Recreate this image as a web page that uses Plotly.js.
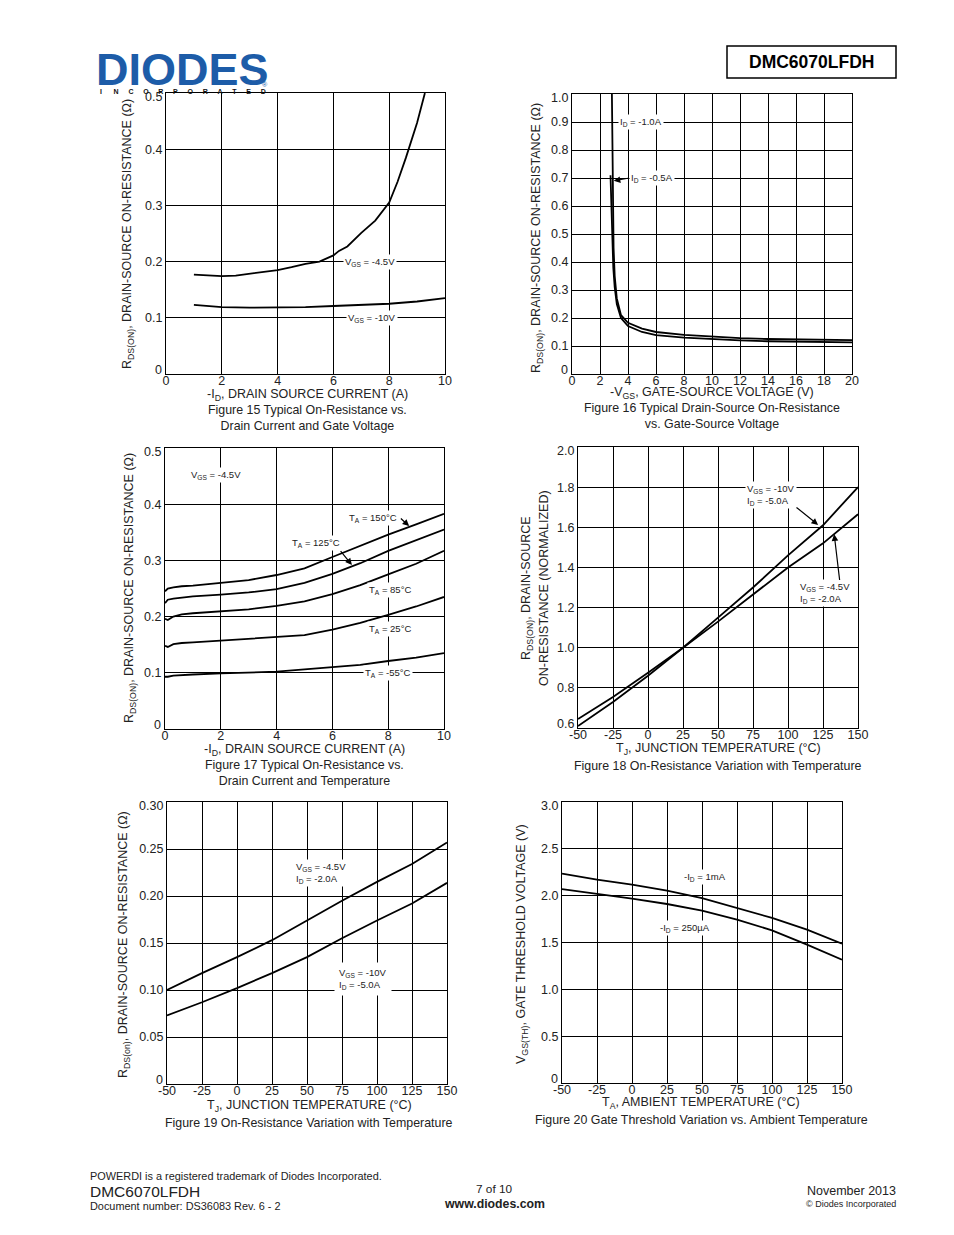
<!DOCTYPE html>
<html><head><meta charset="utf-8">
<script src="https://cdn.plot.ly/plotly-3.0.1.min.js"></script>
<style>html,body{margin:0;padding:0;background:#fff}#c{width:954px;height:1235px}</style>
</head><body><div id="c"></div>
<script>
// ---------- DATA ----------
// Figure 15
const f15_id_45 = [1, 1.5, 2, 2.5, 3, 3.5, 4, 4.5, 5, 5.5, 6, 6.2, 6.5, 7, 7.5, 8, 8.3, 8.6, 9, 9.28];
const f15_r_45  = [0.177, 0.175, 0.174, 0.175, 0.178, 0.181, 0.185, 0.190, 0.196, 0.200, 0.211, 0.219, 0.227, 0.251, 0.273, 0.305, 0.342, 0.385, 0.447, 0.5];
const f15_id_10 = [1, 2, 3, 4, 5, 6, 7, 8, 9, 10];
const f15_r_10  = [0.123, 0.119, 0.118, 0.118, 0.119, 0.121, 0.123, 0.125, 0.129, 0.135];
// Figure 16
const f16_v_1a  = [2.85, 2.88, 2.92, 2.97, 3.05, 3.2, 3.5, 4, 5, 6, 8, 10, 12, 14, 16, 18, 20];
const f16_r_1a  = [1.0, 0.8, 0.6, 0.45, 0.35, 0.27, 0.21, 0.183, 0.162, 0.150, 0.140, 0.133, 0.128, 0.125, 0.123, 0.122, 0.121];
const f16_v_05a = [2.75, 2.8, 2.88, 2.95, 3.05, 3.2, 3.5, 4, 5, 6, 8, 10, 12, 14, 16, 18, 20];
const f16_r_05a = [0.71, 0.6, 0.48, 0.38, 0.31, 0.25, 0.20, 0.171, 0.150, 0.139, 0.130, 0.124, 0.120, 0.117, 0.116, 0.115, 0.113];
// Figure 17
const f17_id    = [0, 0.1, 0.3, 0.6, 1, 2, 3, 4, 5, 6, 7, 8, 9, 10];
const f17_r_150 = [0.245, 0.250, 0.252, 0.254, 0.255, 0.260, 0.265, 0.274, 0.286, 0.306, 0.326, 0.346, 0.364, 0.383];
const f17_r_125 = [0.224, 0.230, 0.232, 0.234, 0.236, 0.239, 0.243, 0.249, 0.260, 0.276, 0.295, 0.317, 0.336, 0.355];
const f17_r_85  = [0.196, 0.194, 0.200, 0.204, 0.206, 0.209, 0.213, 0.219, 0.227, 0.240, 0.256, 0.275, 0.294, 0.317];
const f17_r_25  = [0.148, 0.146, 0.151, 0.153, 0.154, 0.157, 0.160, 0.163, 0.167, 0.177, 0.189, 0.203, 0.218, 0.235];
const f17_r_m55 = [0.093, 0.093, 0.095, 0.096, 0.097, 0.099, 0.101, 0.102, 0.106, 0.110, 0.114, 0.121, 0.127, 0.135];
// Figure 18
const f18_t     = [-50, -25, 0, 25, 50, 75, 100, 125, 150];
const f18_n_10  = [0.61, 0.73, 0.86, 1.0, 1.15, 1.30, 1.46, 1.61, 1.80];
const f18_n_45  = [0.645, 0.755, 0.875, 1.0, 1.13, 1.265, 1.40, 1.52, 1.665];
// Figure 19
const f19_t     = [-50, -25, 0, 25, 50, 75, 100, 125, 150];
const f19_r_45  = [0.100, 0.118, 0.135, 0.153, 0.174, 0.195, 0.215, 0.234, 0.257];
const f19_r_10  = [0.073, 0.087, 0.102, 0.118, 0.135, 0.155, 0.174, 0.192, 0.214];
// Figure 20
const f20_t     = [-50, -25, 0, 25, 50, 75, 100, 125, 150];
const f20_v_1ma = [2.235, 2.171, 2.117, 2.053, 1.975, 1.868, 1.762, 1.637, 1.488];
const f20_v_250 = [2.071, 2.021, 1.968, 1.911, 1.840, 1.744, 1.630, 1.477, 1.317];
// Tick labels (first and last of each y list are drawn separately, nudged inward as in the original)
const tk_id  = [0, 2, 4, 6, 8, 10];
const tk_r05 = [0, 0.1, 0.2, 0.3, 0.4, 0.5];
const tk_r05_txt = ['0', '0.1', '0.2', '0.3', '0.4', '0.5'];
const tk_vgs = [0, 2, 4, 6, 8, 10, 12, 14, 16, 18, 20];
const tk_r10 = [0, 0.1, 0.2, 0.3, 0.4, 0.5, 0.6, 0.7, 0.8, 0.9, 1.0];
const tk_r10_txt = ['0', '0.1', '0.2', '0.3', '0.4', '0.5', '0.6', '0.7', '0.8', '0.9', '1.0'];
const tk_t = [-50, -25, 0, 25, 50, 75, 100, 125, 150];
const tk_n = [0.6, 0.8, 1.0, 1.2, 1.4, 1.6, 1.8, 2.0];
const tk_n_txt = ['0.6', '0.8', '1.0', '1.2', '1.4', '1.6', '1.8', '2.0'];
const tk_r03 = [0, 0.05, 0.10, 0.15, 0.20, 0.25, 0.30];
const tk_r03_txt = ['0', '0.05', '0.10', '0.15', '0.20', '0.25', '0.30'];
const tk_vth = [0, 0.5, 1.0, 1.5, 2.0, 2.5, 3.0];
const tk_vth_txt = ['0', '0.5', '1.0', '1.5', '2.0', '2.5', '3.0'];

// ---------- LAYOUT ----------
const W = 954, H = 1235;
const FONT = 'Liberation Sans, Arial, Helvetica, sans-serif';
const px = x => x / W, py = y => 1 - y / H;
const LINE = {color: '#000', width: 1.8};

function tr(x, y, ax) {
  return {x: x, y: y, xaxis: 'x' + ax, yaxis: 'y' + ax, type: 'scatter', mode: 'lines',
          line: LINE, hoverinfo: 'skip', showlegend: false};
}
const data = [
  tr(f15_id_45, f15_r_45, ''), tr(f15_id_10, f15_r_10, ''),
  tr(f16_v_1a, f16_r_1a, 2), tr(f16_v_05a, f16_r_05a, 2),
  tr(f17_id, f17_r_150, 3), tr(f17_id, f17_r_125, 3), tr(f17_id, f17_r_85, 3), tr(f17_id, f17_r_25, 3), tr(f17_id, f17_r_m55, 3),
  tr(f18_t, f18_n_10, 4), tr(f18_t, f18_n_45, 4),
  tr(f19_t, f19_r_45, 5), tr(f19_t, f19_r_10, 5),
  tr(f20_t, f20_v_1ma, 6), tr(f20_t, f20_v_250, 6)
];

const ann = [];
function txt(x, y, text, size, opts) {
  ann.push(Object.assign({xref: 'paper', yref: 'paper', x: px(x), y: py(y), text: text, showarrow: false,
    font: {family: FONT, size: size, color: '#222'}, xanchor: 'center', yanchor: 'middle', borderpad: 0}, opts || {}));
}
const dom2left = {x: 166, x2: 572, x3: 165, x4: 578, x5: 167, x6: 562};
function xa(dom, range, vals, anchor, txtArr) {
  return {domain: [px(dom[0]), px(dom[1])], range: range, anchor: anchor,
    tickvals: vals, ticktext: txtArr || vals.map(String), ticks: '', ticklabelstandoff: -5,
    showgrid: true, gridcolor: '#000', gridwidth: 1,
    zeroline: false, showline: true, mirror: true, linecolor: '#000', linewidth: 1,
    tickfont: {family: FONT, size: 12.5, color: '#222'}, fixedrange: true};
}
function ya(dom, range, vals, labels, anchor) {
  const n = labels.length;
  txt(dom2left[anchor] - 3, dom[1] - 4, labels[0], 12.5, {xanchor: 'right'});
  txt(dom2left[anchor] - 3, dom[0] + 4, labels[n - 1], 12.5, {xanchor: 'right'});
  return {domain: [py(dom[1]), py(dom[0])], range: range, anchor: anchor,
    tickvals: vals, ticktext: [''].concat(labels.slice(1, n - 1), ['']), ticks: '',
    showgrid: true, gridcolor: '#000', gridwidth: 1,
    zeroline: false, showline: true, mirror: true, linecolor: '#000', linewidth: 1,
    tickfont: {family: FONT, size: 12.5, color: '#222'}, fixedrange: true};
}

function lab(ax, x, y, text, opts) {
  ann.push(Object.assign({xref: 'x' + ax, yref: 'y' + ax, x: x, y: y, text: text, showarrow: false,
    font: {family: FONT, size: 9.5, color: '#222'}, bgcolor: '#fff', borderpad: 1}, opts || {}));
}
function arrow(ax, x0, y0, x1, y1) {
  ann.push({xref: 'x' + ax, yref: 'y' + ax, axref: 'x' + ax, ayref: 'y' + ax, x: x1, y: y1, ax: x0, ay: y0,
    text: '', showarrow: true, arrowhead: 2, arrowsize: 1.1, arrowwidth: 1.2, arrowcolor: '#000', standoff: 0});
}

// header
txt(95, 70, '<b>DIODES</b>', 45, {xanchor: 'left', font: {family: FONT, size: 45, color: '#1d5ca8'}});
txt(99, 92, '<b>I&nbsp;&nbsp;&nbsp;&nbsp;&nbsp;&nbsp;N&nbsp;&nbsp;&nbsp;&nbsp;&nbsp;C&nbsp;&nbsp;&nbsp;&nbsp;&nbsp;O&nbsp;&nbsp;&nbsp;&nbsp;&nbsp;R&nbsp;&nbsp;&nbsp;&nbsp;&nbsp;P&nbsp;&nbsp;&nbsp;&nbsp;&nbsp;O&nbsp;&nbsp;&nbsp;&nbsp;&nbsp;R&nbsp;&nbsp;&nbsp;&nbsp;&nbsp;A&nbsp;&nbsp;&nbsp;&nbsp;&nbsp;T&nbsp;&nbsp;&nbsp;&nbsp;&nbsp;E&nbsp;&nbsp;&nbsp;&nbsp;&nbsp;D</b>', 7,
    {xanchor: 'left', font: {family: FONT, size: 7, color: '#111'}});
txt(265, 85, '®', 7, {font: {family: FONT, size: 7, color: '#1d5ca8'}});
txt(811, 62, '<b>DMC6070LFDH</b>', 17.5, {font: {family: FONT, size: 17.5, color: '#000'}});

const layout = {
  width: W, height: H, margin: {l: 0, r: 0, t: 0, b: 0}, paper_bgcolor: '#fff', plot_bgcolor: '#fff',
  showlegend: false, font: {family: FONT, color: '#222'},
  xaxis:  xa([166, 445], [0, 10], tk_id, 'y'),
  yaxis:  ya([93, 374], [0, 0.5], tk_r05, tk_r05_txt, 'x'),
  xaxis2: xa([572, 852], [0, 20], tk_vgs, 'y2'),
  yaxis2: ya([94, 374], [0, 1.0], tk_r10, tk_r10_txt, 'x2'),
  xaxis3: xa([165, 444], [0, 10], tk_id, 'y3'),
  yaxis3: ya([448, 729], [0, 0.5], tk_r05, tk_r05_txt, 'x3'),
  xaxis4: xa([578, 858], [-50, 150], tk_t, 'y4'),
  yaxis4: ya([447, 728], [0.6, 2.0], tk_n, tk_n_txt, 'x4'),
  xaxis5: xa([167, 447], [-50, 150], tk_t, 'y5'),
  yaxis5: ya([802, 1084], [0, 0.30], tk_r03, tk_r03_txt, 'x5'),
  xaxis6: xa([562, 842], [-50, 150], tk_t, 'y6'),
  yaxis6: ya([802, 1083], [0, 3.0], tk_vth, tk_vth_txt, 'x6'),
  annotations: ann,
  shapes: [{type: 'rect', xref: 'paper', yref: 'paper', x0: px(727), x1: px(896), y0: py(46), y1: py(78),
            line: {color: '#000', width: 1.5}}]
};

// Fig 15
txt(128, 234, 'R<sub>DS(ON)</sub>, DRAIN-SOURCE ON-RESISTANCE (Ω)', 12.5, {textangle: -90});
txt(307, 395, '-I<sub>D</sub>, DRAIN SOURCE CURRENT (A)', 12.5);
txt(307, 418, 'Figure 15 Typical On-Resistance vs.<br>Drain Current and Gate Voltage', 12.4);
lab('', 7.3, 0.2, 'V<sub>GS</sub> = -4.5V');
lab('', 7.4, 0.1, 'V<sub>GS</sub> = -10V');
// Fig 16
txt(537, 238, 'R<sub>DS(ON)</sub>, DRAIN-SOURCE ON-RESISTANCE (Ω)', 12.5, {textangle: -90});
txt(712, 393, '-V<sub>GS</sub>, GATE-SOURCE VOLTAGE (V)', 12.5);
txt(712, 416, 'Figure 16 Typical Drain-Source On-Resistance<br>vs. Gate-Source Voltage', 12.4);
lab(2, 4.9, 0.9, 'I<sub>D</sub> = -1.0A');
lab(2, 5.7, 0.7, 'I<sub>D</sub> = -0.5A');
arrow(2, 4.1, 0.7, 2.98, 0.69);
// Fig 17
txt(130, 588, 'R<sub>DS(ON)</sub>, DRAIN-SOURCE ON-RESISTANCE (Ω)', 12.5, {textangle: -90});
txt(304, 750, '-I<sub>D</sub>, DRAIN SOURCE CURRENT (A)', 12.5);
txt(304, 773, 'Figure 17 Typical On-Resistance vs.<br>Drain Current and Temperature', 12.4);
lab(3, 0.85, 0.452, 'V<sub>GS</sub> = -4.5V', {xanchor: 'left'});
lab(3, 7.46, 0.376, 'T<sub>A</sub> = 150°C');
arrow(3, 8.4, 0.377, 8.75, 0.361);
lab(3, 5.4, 0.331, 'T<sub>A</sub> = 125°C');
arrow(3, 6.25, 0.319, 6.7, 0.292);
lab(3, 8.06, 0.247, 'T<sub>A</sub> = 85°C');
lab(3, 8.06, 0.178, 'T<sub>A</sub> = 25°C');
lab(3, 8.0, 0.1, 'T<sub>A</sub> = -55°C');
// Fig 18
txt(527, 588, 'R<sub>DS(ON)</sub>, DRAIN-SOURCE', 12.5, {textangle: -90});
txt(544, 588, 'ON-RESISTANCE (NORMALIZED)', 12.5, {textangle: -90});
txt(718, 749, 'T<sub>J</sub>, JUNCTION TEMPERATURE (°C)', 12.5);
txt(718, 766, 'Figure 18 On-Resistance Variation with Temperature', 12.4);
lab(4, 69, 1.76, 'V<sub>GS</sub> = -10V<br>I<sub>D</sub> = -5.0A', {xanchor: 'left', align: 'left'});
arrow(4, 105, 1.705, 121.5, 1.612);
lab(4, 107, 1.275, 'V<sub>GS</sub> = -4.5V<br>I<sub>D</sub> = -2.0A', {xanchor: 'left', align: 'left'});
arrow(4, 137, 1.33, 133, 1.565);
// Fig 19
txt(124, 944, 'R<sub>DS(on)</sub>, DRAIN-SOURCE ON-RESISTANCE (Ω)', 12.5, {textangle: -90});
txt(309, 1106, 'T<sub>J</sub>, JUNCTION TEMPERATURE (°C)', 12.5);
txt(309, 1123, 'Figure 19 On-Resistance Variation with Temperature', 12.4);
lab(5, 41, 0.224, 'V<sub>GS</sub> = -4.5V<br>I<sub>D</sub> = -2.0A', {xanchor: 'left', align: 'left'});
lab(5, 69, 0.112, 'V<sub>GS</sub> = -10V<br>I<sub>D</sub> = -5.0A', {xanchor: 'left', align: 'left', borderpad: 4});
// Fig 20
txt(522, 944, 'V<sub>GS(TH)</sub>, GATE THRESHOLD VOLTAGE (V)', 12.5, {textangle: -90});
txt(701, 1103, 'T<sub>A</sub>, AMBIENT TEMPERATURE (°C)', 12.5);
txt(701, 1120, 'Figure 20 Gate Threshold Variation vs. Ambient Temperature', 12.4);
lab(6, 52, 2.2, '-I<sub>D</sub> = 1mA');
lab(6, 38, 1.65, '-I<sub>D</sub> = 250µA');

// footer
txt(89, 1176, 'POWERDI is a registered trademark of Diodes Incorporated.', 10.9, {xanchor: 'left'});
txt(89, 1191, 'DMC6070LFDH', 15.5, {xanchor: 'left'});
txt(89, 1206, 'Document number: DS36083 Rev. 6 - 2', 10.9, {xanchor: 'left'});
txt(494, 1189, '7 of 10', 11.8);
txt(494, 1204, '<b>www.diodes.com</b>', 12.3);
txt(897, 1191, 'November 2013', 12.5, {xanchor: 'right'});
txt(897, 1204, '© Diodes Incorporated', 9, {xanchor: 'right'});

Plotly.newPlot('c', data, layout, {staticPlot: true, displayModeBar: false});
</script></body></html>
